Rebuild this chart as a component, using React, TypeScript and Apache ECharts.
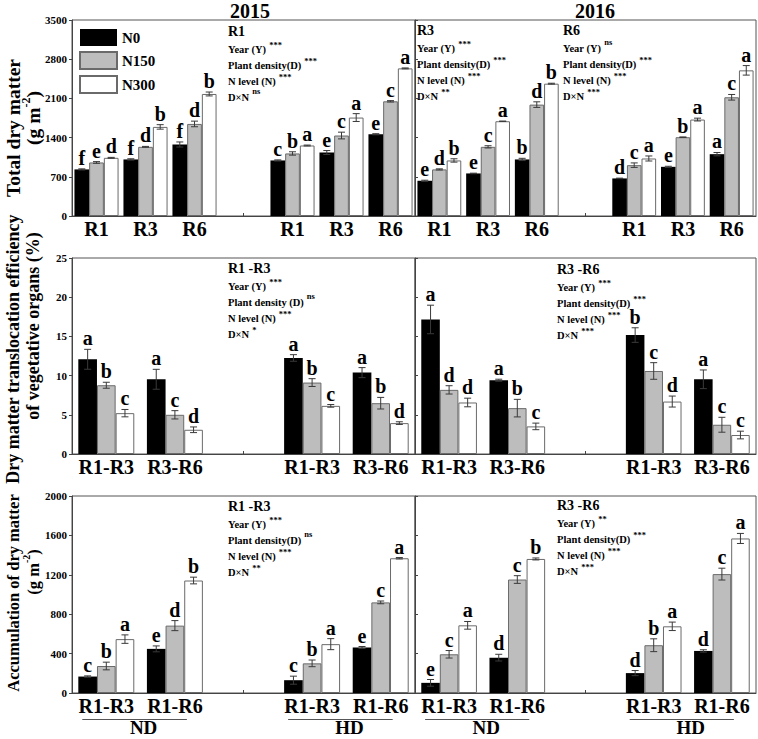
import React, { useEffect, useRef } from 'react';
import * as echarts from 'echarts';

const FONT = '"Liberation Serif", "Times New Roman", serif';

// ---------- categories ----------
const seriesNames = ['N0', 'N150', 'N300'];
const stageCats = ['R1', 'R3', 'R6', '', 'R1', 'R3', 'R6'];
const midCats = ['R1-R3', 'R3-R6', '', 'R1-R3', 'R3-R6'];
const botCats = ['R1-R3', 'R1-R6', '', 'R1-R3', 'R1-R6'];

// ---------- Total dry matter (g m-2) ----------
const tdm15N0 = [832, 1010, 1277, null, 992, 1134, 1460];
const tdm15N150 = [956, 1235, 1644, null, 1117, 1437, 2048];
const tdm15N300 = [1039, 1591, 2179, null, 1259, 1758, 2636];
const tdm15ErrN0 = [10, 12, 45, null, 10, 35, 10];
const tdm15ErrN150 = [15, 8, 50, null, 30, 60, 12];
const tdm15ErrN300 = [8, 40, 35, null, 8, 70, 8];
const tdm15LetN0 = ['f', 'f', 'f', '', 'c', 'e', 'e'];
const tdm15LetN150 = ['e', 'd', 'd', '', 'b', 'c', 'c'];
const tdm15LetN300 = ['d', 'b', 'b', '', 'a', 'a', 'a'];

const tdm16N0 = [629, 760, 1010, null, 671, 878, 1104];
const tdm16N150 = [832, 1235, 1989, null, 908, 1407, 2120];
const tdm16N300 = [992, 1692, 2363, null, 1027, 1722, 2601];
const tdm16ErrN0 = [10, 5, 20, null, 5, 10, 30];
const tdm16ErrN150 = [10, 20, 50, null, 40, 5, 50];
const tdm16ErrN300 = [30, 3, 8, null, 45, 25, 85];
const tdm16LetN0 = ['e', 'e', 'b', '', 'd', 'e', 'a'];
const tdm16LetN150 = ['d', 'c', 'd', '', 'c', 'b', 'c'];
const tdm16LetN300 = ['b', 'a', 'b', '', 'a', 'a', 'a'];

// ---------- Translocation efficiency (%) ----------
const te15N0 = [12.08, 9.53, null, 12.25, 10.38];
const te15N150 = [8.77, 5.0, null, 9.11, 6.48];
const te15N300 = [5.21, 3.09, null, 6.14, 3.94];
const te15ErrN0 = [1.27, 1.27, null, 0.42, 0.64];
const te15ErrN150 = [0.38, 0.53, null, 0.5, 0.74];
const te15ErrN300 = [0.47, 0.36, null, 0.17, 0.17];
const te15LetN0 = ['a', 'a', '', 'a', 'a'];
const te15LetN150 = ['b', 'c', '', 'b', 'b'];
const te15LetN300 = ['c', 'd', '', 'c', 'd'];

const te16N0 = [17.16, 9.41, null, 15.17, 9.53];
const te16N150 = [8.18, 5.85, null, 10.59, 3.73];
const te16N300 = [6.57, 3.52, null, 6.69, 2.42];
const te16ErrN0 = [1.82, 0.13, null, 0.93, 1.19];
const te16ErrN150 = [0.53, 1.12, null, 1.06, 0.95];
const te16ErrN300 = [0.55, 0.42, null, 0.7, 0.49];
const te16LetN0 = ['a', 'a', '', 'b', 'a'];
const te16LetN150 = ['d', 'b', '', 'c', 'c'];
const te16LetN300 = ['d', 'c', '', 'd', 'c'];

// ---------- Accumulation of dry matter (g m-2) ----------
const acc15N0 = [167, 448, null, 130, 462];
const acc15N150 = [274, 684, null, 301, 920];
const acc15N300 = [547, 1142, null, 496, 1368];
const acc15ErrN0 = [7, 30, null, 41, 10];
const acc15ErrN150 = [39, 51, null, 34, 14];
const acc15ErrN300 = [43, 34, null, 56, 7];
const acc15LetN0 = ['c', 'e', '', 'c', 'e'];
const acc15LetN150 = ['b', 'd', '', 'b', 'c'];
const acc15LetN300 = ['a', 'b', '', 'a', 'a'];

const acc16N0 = [103, 359, null, 202, 427];
const acc16N150 = [393, 1152, null, 485, 1207];
const acc16N300 = [687, 1361, null, 677, 1569];
const acc16ErrN0 = [34, 34, null, 26, 12];
const acc16ErrN150 = [38, 39, null, 65, 60];
const acc16ErrN300 = [39, 10, null, 43, 51];
const acc16LetN0 = ['e', 'd', '', 'd', 'd'];
const acc16LetN150 = ['c', 'c', '', 'b', 'c'];
const acc16LetN300 = ['a', 'b', '', 'a', 'a'];

// ---------- axis ranges ----------
const tdmAxis = { max: 3500, interval: 700 };
const teAxis = { max: 25, interval: 5 };
const accAxis = { max: 2000, interval: 400 };

// ---------- annotation texts ----------
const annTop15 = { title: 'R1', lines: [['Year (Y)', '***'], ['Plant density(D)', '***'], ['N level (N)', '***'], ['D×N', 'ns']] };
const annTop16a = { title: 'R3', lines: [['Year (Y)', '***'], ['Plant density(D)', '***'], ['N level (N)', '***'], ['D×N', '**']] };
const annTop16b = { title: 'R6', lines: [['Year (Y)', 'ns'], ['Plant density(D)', '***'], ['N level (N)', '***'], ['D×N', '***']] };
const annMid15 = { title: 'R1 -R3', lines: [['Year (Y)', '***'], ['Plant density (D)', 'ns'], ['N level (N)', '***'], ['D×N', '*']] };
const annMid16 = { title: 'R3 -R6', lines: [['Year (Y)', '***'], ['Plant density(D)', '***'], ['N level (N)', '***'], ['D×N', '***']] };
const annBot15 = { title: 'R1 -R3', lines: [['Year (Y)', '***'], ['Plant density(D)', 'ns'], ['N level (N)', '***'], ['D×N', '**']] };
const annBot16 = { title: 'R3 -R6', lines: [['Year (Y)', '**'], ['Plant density(D)', '***'], ['N level (N)', '***'], ['D×N', '***']] };

const barColors = ['#000000', '#bdbdbd', '#ffffff'];
const barBorders = ['#000000', '#6a6a6a', '#6a6a6a'];

// layout
const GRIDS = [
  { left: 72, top: 20, width: 343, height: 196 },
  { left: 415, top: 20, width: 341, height: 196 },
  { left: 72, top: 258, width: 343, height: 196 },
  { left: 415, top: 258, width: 341, height: 196 },
  { left: 72, top: 496, width: 343, height: 197 },
  { left: 415, top: 496, width: 341, height: 197 },
];

type Panel = {
  cats: string[];
  vals: (number | null)[][];
  errs: (number | null)[][];
  lets: string[][];
  axis: { max: number; interval: number };
  frac: number;
};

const panels: Panel[] = [
  { cats: stageCats, vals: [tdm15N0, tdm15N150, tdm15N300], errs: [tdm15ErrN0, tdm15ErrN150, tdm15ErrN300], lets: [tdm15LetN0, tdm15LetN150, tdm15LetN300], axis: tdmAxis, frac: 0.3 },
  { cats: stageCats, vals: [tdm16N0, tdm16N150, tdm16N300], errs: [tdm16ErrN0, tdm16ErrN150, tdm16ErrN300], lets: [tdm16LetN0, tdm16LetN150, tdm16LetN300], axis: tdmAxis, frac: 0.3 },
  { cats: midCats, vals: [te15N0, te15N150, te15N300], errs: [te15ErrN0, te15ErrN150, te15ErrN300], lets: [te15LetN0, te15LetN150, te15LetN300], axis: teAxis, frac: 0.272 },
  { cats: midCats, vals: [te16N0, te16N150, te16N300], errs: [te16ErrN0, te16ErrN150, te16ErrN300], lets: [te16LetN0, te16LetN150, te16LetN300], axis: teAxis, frac: 0.272 },
  { cats: botCats, vals: [acc15N0, acc15N150, acc15N300], errs: [acc15ErrN0, acc15ErrN150, acc15ErrN300], lets: [acc15LetN0, acc15LetN150, acc15LetN300], axis: accAxis, frac: 0.272 },
  { cats: botCats, vals: [acc16N0, acc16N150, acc16N300], errs: [acc16ErrN0, acc16ErrN150, acc16ErrN300], lets: [acc16LetN0, acc16LetN150, acc16LetN300], axis: accAxis, frac: 0.272 },
];

let measureCtx: CanvasRenderingContext2D | null = null;
function textWidth(t: string, font: string) {
  if (!measureCtx) measureCtx = document.createElement('canvas').getContext('2d');
  if (!measureCtx) return t.length * 5;
  measureCtx.font = font;
  return measureCtx.measureText(t).width;
}

const MAIN_FONT = `bold 10.5px ${FONT}`;
const SUP_FONT = `bold 8.5px ${FONT}`;

function txt(x: number, y: number, text: string, font: string, align = 'left', valign = 'middle') {
  return {
    type: 'text', x, y,
    style: { text, font, fill: '#000', textAlign: align, textVerticalAlign: valign, align, verticalAlign: valign },
  };
}

function annotation(x: number, yTitle: number, ann: { title: string; lines: string[][] }) {
  const els: any[] = [txt(x, yTitle, ann.title, `bold 14px ${FONT}`)];
  ann.lines.forEach((ln, k) => {
    const y = yTitle + 18 + 16 * k;
    els.push(txt(x, y, ln[0], MAIN_FONT));
    const w = textWidth(ln[0], MAIN_FONT);
    const isStar = ln[1].indexOf('*') >= 0;
    els.push(txt(x + w + 3, y - (isStar ? 4 : 6), ln[1], SUP_FONT));
  });
  return els;
}

// rotated (bottom-to-top) axis title, optional superscript part
function yTitle(x: number, y: number, parts: [string, boolean][], size: number) {
  const font = `bold ${size}px ${FONT}`;
  const supSize = Math.round(size * 0.62);
  const supFont = `bold ${supSize}px ${FONT}`;
  const widths = parts.map(([t, sup]) => textWidth(t, sup ? supFont : font));
  const total = widths.reduce((a, b) => a + b, 0);
  let cur = -total / 2;
  const children: any[] = parts.map(([t, sup], i) => {
    const el = txt(cur, sup ? -size * 0.38 : 0, t, sup ? supFont : font, 'left', 'middle');
    cur += widths[i];
    return el;
  });
  return { type: 'group', x, y, rotation: Math.PI / 2, children };
}

export default function App() {
  const ref = useRef<HTMLDivElement>(null);
  useEffect(() => {
    if (!ref.current) return;
    const chart = echarts.init(ref.current, undefined, { renderer: 'svg' });

    const grid = GRIDS.map((g) => ({ ...g, show: true, borderColor: '#555', borderWidth: 1, backgroundColor: 'transparent', containLabel: false }));
    const xAxis = panels.map((p, i) => ({
      type: 'category', gridIndex: i, data: p.cats,
      axisLine: { show: true, lineStyle: { color: '#444', width: 1 } },
      axisTick: { show: true, inside: true, length: 3, alignWithLabel: true, lineStyle: { color: '#444' } },
      axisLabel: { interval: 0, margin: 3, fontFamily: FONT, fontWeight: 'bold', fontSize: 20, color: '#000' },
      splitLine: { show: false },
    }));
    const yAxis = panels.map((p, i) => {
      const leftCol = i % 2 === 0;
      return {
        type: 'value', gridIndex: i, min: 0, max: p.axis.max, interval: p.axis.interval,
        axisLine: { show: true, lineStyle: { color: '#444', width: 1 } },
        axisTick: { show: true, inside: !leftCol, length: 3, lineStyle: { color: '#444' } },
        axisLabel: { show: leftCol, margin: 5, fontFamily: FONT, fontWeight: 'bold', fontSize: 11, color: '#000', formatter: (v: number) => String(v) },
        splitLine: { show: false },
      };
    });

    const series: any[] = [];
    panels.forEach((p, pi) => {
      seriesNames.forEach((name, si) => {
        series.push({
          type: 'bar', name, xAxisIndex: pi, yAxisIndex: pi,
          data: p.vals[si].map((v) => (v === null ? '-' : v)),
          barWidth: `${p.frac * 100}%`, barGap: '0%',
          itemStyle: { color: barColors[si], borderColor: barBorders[si], borderWidth: si === 0 ? 0 : 1 },
        });
      });
      const items: number[][] = [];
      const letters: string[] = [];
      seriesNames.forEach((_, si) => {
        p.vals[si].forEach((v, ci) => {
          if (v === null) return;
          items.push([ci, si, v, p.errs[si][ci] as number]);
          letters.push(p.lets[si][ci]);
        });
      });
      series.push({
        type: 'custom', xAxisIndex: pi, yAxisIndex: pi, clip: false, z: 10,
        encode: { x: 0, y: 2 },
        data: items,
        silent: true,
        renderItem: (params: any, api: any) => {
          const ci = api.value(0);
          const si = api.value(1);
          const v = api.value(2);
          const e = api.value(3);
          const band = api.size([1, 0])[0];
          const bw = band * p.frac;
          const x = api.coord([ci, v])[0] + (si - 1) * bw;
          const yT = api.coord([ci, v + e])[1];
          const yB = api.coord([ci, Math.max(0, v - e)])[1];
          const cap = 3.5;
          const ls = { stroke: '#3a3a3a', lineWidth: 1 };
          const children: any[] = [];
          if (e > 0) {
            children.push({ type: 'line', shape: { x1: x, y1: yT, x2: x, y2: yB }, style: ls });
            children.push({ type: 'line', shape: { x1: x - cap, y1: yT, x2: x + cap, y2: yT }, style: ls });
            children.push({ type: 'line', shape: { x1: x - cap, y1: yB, x2: x + cap, y2: yB }, style: ls });
          }
          children.push({
            type: 'text', x, y: yT - 1,
            style: {
              text: letters[params.dataIndex], font: `bold 20px ${FONT}`, fill: '#000',
              textAlign: 'center', textVerticalAlign: 'bottom', align: 'center', verticalAlign: 'bottom',
            },
          });
          return { type: 'group', children };
        },
      });
    });

    // ND / HD labels below bottom panels
    const groupEls: any[] = [];
    [4, 5].forEach((gi) => {
      const g = GRIDS[gi];
      const n = panels[gi].cats.length;
      const w = g.width / n;
      const c = (k: number) => g.left + (k + 0.5) * w;
      [[0, 1, 'ND'], [3, 4, 'HD']].forEach(([a, b, lab]) => {
        const ca = c(a as number);
        const cb = c(b as number);
        groupEls.push({ type: 'line', shape: { x1: ca - 24, y1: 719.5, x2: cb + 12, y2: 719.5 }, style: { stroke: '#555', lineWidth: 1 } });
        groupEls.push(txt((ca + cb) / 2 + 3, 737, lab as string, `bold 19px ${FONT}`, 'center', 'bottom'));
      });
    });

    const graphic: any[] = [
      txt(250, 11, '2015', `bold 20px ${FONT}`, 'center'),
      txt(595, 11, '2016', `bold 20px ${FONT}`, 'center'),
      yTitle(13, 128, [['Total dry matter', false]], 19.5),
      yTitle(33, 118, [['(g m', false], ['-2', true], [')', false]], 19.5),
      yTitle(13, 349, [['Dry matter translocation efficiency', false]], 18),
      yTitle(33, 326, [['of vegetative organs (%)', false]], 18),
      yTitle(13, 593, [['Accumulation of dry matter', false]], 16.5),
      yTitle(33, 572, [['(g m', false], ['-2', true], [')', false]], 16.5),
      ...annotation(228, 31, annTop15),
      ...annotation(417, 30, annTop16a),
      ...annotation(563, 30, annTop16b),
      ...annotation(228, 268, annMid15),
      ...annotation(557, 269, annMid16),
      ...annotation(228, 506, annBot15),
      ...annotation(557, 505, annBot16),
      ...groupEls,
    ];

    chart.setOption({
      animation: false,
      backgroundColor: '#fff',
      textStyle: { fontFamily: FONT },
      legend: {
        data: seriesNames, orient: 'vertical', left: 74, top: 24,
        itemWidth: 37, itemHeight: 17, itemGap: 5, icon: 'rect',
        textStyle: { fontFamily: FONT, fontWeight: 'bold', fontSize: 15, color: '#000' },
        selectedMode: false,
      },
      grid, xAxis, yAxis, series, graphic,
    });
    return () => chart.dispose();
  }, []);
  return <div ref={ref} style={{ position: 'absolute', left: 0, top: 0, width: 758, height: 739 }} />;
}
